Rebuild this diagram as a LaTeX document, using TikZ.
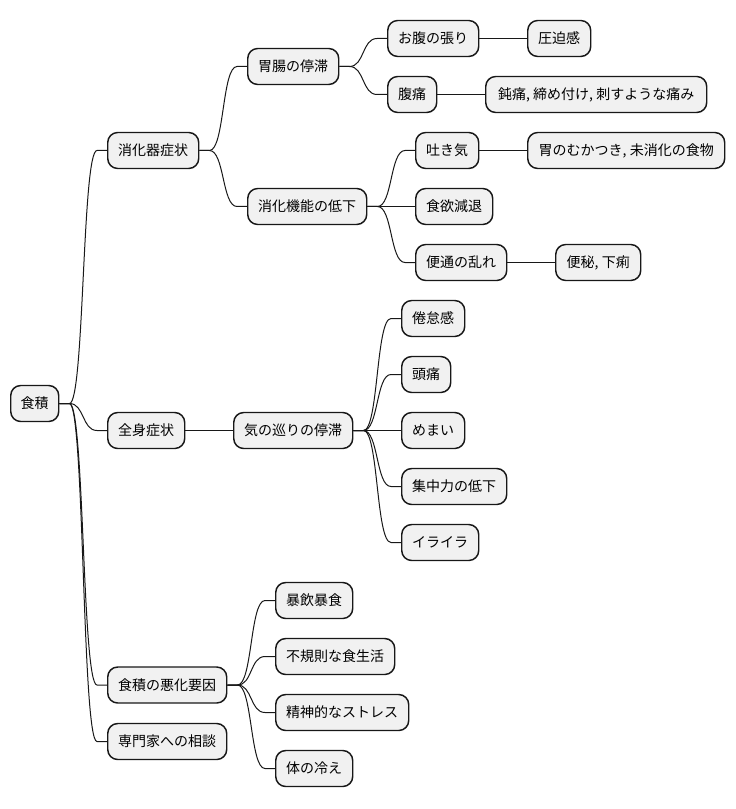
\documentclass[tikz,border=0pt]{standalone}
\usepackage{fontspec}
\setmainfont{Noto Sans CJK JP}
\usetikzlibrary{calc}
\definecolor{MapLine}{HTML}{181818}
\definecolor{MapFill}{HTML}{F1F1F1}
\tikzset{
  every node/.style={font=\fontsize{10.5pt}{12pt}\selectfont, text=black},
  topic/.style={draw=MapLine, fill=MapFill, line width=1.1pt, rounded corners=7.5pt,
    minimum height=27pt, minimum width={#1*0.75pt}, inner xsep=0pt, anchor=west},
  link/.style={draw=MapLine, line width=0.75pt},
}
\begin{document}
\begin{tikzpicture}[x=0.75pt,y=-0.75pt]
  \useasboundingbox (0,0) rectangle (735,809);
  % root and first level
  \node[topic=48] (root) at (10,403.5) {食積};
  \node[topic=91] (dig) at (107,150.5) {消化器症状};
  \node[topic=77] (body) at (107,430.5) {全身症状};
  \node[topic=119] (cause) at (107,685) {食積の悪化要因};
  \node[topic=119] (expert) at (107,741.5) {専門家への相談};
  % digestive branch
  \node[topic=91] (stag) at (247,66.5) {胃腸の停滞};
  \node[topic=119] (func) at (247,206.5) {消化機能の低下};
  \node[topic=91] (bloat) at (387,38.5) {お腹の張り};
  \node[topic=63] (press) at (527,38.5) {圧迫感};
  \node[topic=49] (pain) at (387,94.5) {腹痛};
  \node[topic=221] (painkind) at (485,94.5) {鈍痛, 締め付け, 刺すような痛み};
  \node[topic=63] (nausea) at (415,150.5) {吐き気};
  \node[topic=197] (nauseakind) at (527,150.5) {胃のむかつき, 未消化の食物};
  \node[topic=77] (appetite) at (415,206.5) {食欲減退};
  \node[topic=91] (bowel) at (415,262.5) {便通の乱れ};
  \node[topic=85] (bowelkind) at (555,262.5) {便秘, 下痢};
  % whole-body branch
  \node[topic=119] (qi) at (233,430.5) {気の巡りの停滞};
  \node[topic=63] (fatigue) at (401,318.5) {倦怠感};
  \node[topic=49] (headache) at (401,374.5) {頭痛};
  \node[topic=63] (dizzy) at (401,430.5) {めまい};
  \node[topic=105] (focus) at (401,486.5) {集中力の低下};
  \node[topic=77] (irritate) at (401,542.5) {イライラ};
  % aggravating factors
  \node[topic=77] (binge) at (275,600.5) {暴飲暴食};
  \node[topic=119] (irregular) at (275,656.5) {不規則な食生活};
  \node[topic=133] (stress) at (275,712.5) {精神的なストレス};
  \node[topic=77] (chill) at (275,768.5) {体の冷え};
  % connectors
  \foreach \p/\c in {root/dig, root/body, root/cause, root/expert,
      dig/stag, dig/func, stag/bloat, stag/pain, bloat/press, pain/painkind,
      func/nausea, func/appetite, func/bowel, nausea/nauseakind, bowel/bowelkind,
      body/qi, qi/fatigue, qi/headache, qi/dizzy, qi/focus, qi/irritate,
      cause/binge, cause/irregular, cause/stress, cause/chill}{
    \draw[link] (\p.east) -- ++(10,0) .. controls +(15,0) and +(-15,0) .. ([xshift=-7.5pt]\c.west) -- (\c.west);
  }
\end{tikzpicture}
\end{document}
